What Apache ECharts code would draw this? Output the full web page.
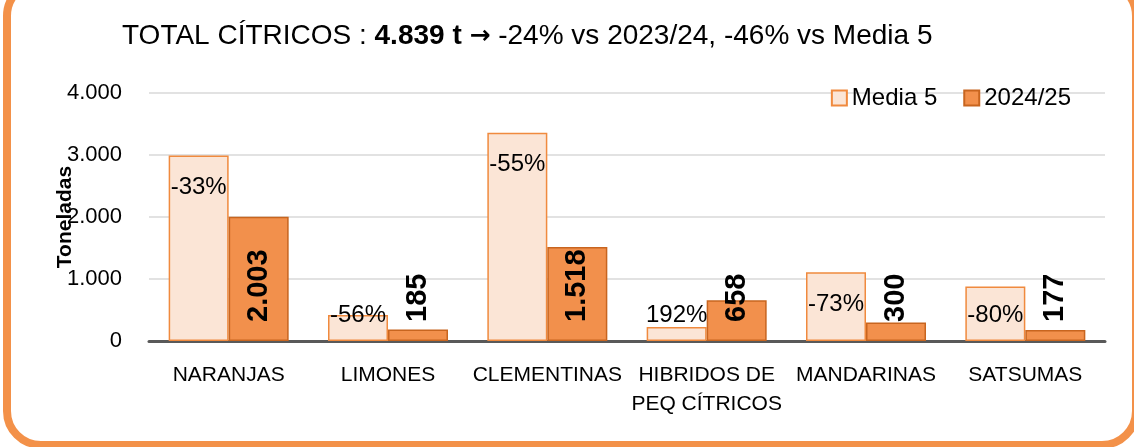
<!DOCTYPE html>
<html>
<head>
<meta charset="utf-8">
<script src="https://cdn.jsdelivr.net/npm/echarts@6/dist/echarts.min.js"></script>
<style>
  html, body { margin: 0; padding: 0; background: #fff; overflow: hidden; }
  #wrap { position: relative; width: 1134px; height: 447px; overflow: hidden; }
  #chart { position: absolute; left: 0; top: 0; width: 1134px; height: 447px; }
  #frame {
    position: absolute; left: 3px; top: -22px; right: -6px; bottom: -2px;
    border: 8px solid #F39149; border-radius: 38px; pointer-events: none;
  }
</style>
</head>
<body>
<div id="wrap">
  <div id="chart"></div>
  <div id="frame"></div>
</div>
<script>
// datos
var categorias = ['NARANJAS', 'LIMONES', 'CLEMENTINAS', 'HIBRIDOS DE\nPEQ CÍTRICOS', 'MANDARINAS', 'SATSUMAS'];
var media5 = [2990, 420, 3360, 225, 1110, 880];
var campana = [2003, 185, 1518, 658, 300, 177];
var variacion = ['-33%', '-56%', '-55%', '192%', '-73%', '-80%'];
var yTicks = [0, 1000, 2000, 3000, 4000];

function miles(v) {
  return String(v).replace(/\B(?=(\d{3})+(?!\d))/g, '.');
}

var chart = echarts.init(document.getElementById('chart'));

// etiquetas de % : dentro arriba si la barra es alta, si no abajo
var media5Data = media5.map(function (v, i) {
  var alta = v > 950;
  return {
    value: v,
    label: {
      position: alta ? 'insideTop' : 'insideBottom',
      distance: alta ? 20 : 14,
      formatter: variacion[i]
    }
  };
});

var option = {
  animation: false,
  title: {
    text: '{a|TOTAL CÍTRICOS : }{b|4.839 t }{c|→}{a| -24% vs 2023/24, -46% vs Media 5}',
    left: 117,
    top: 17,
    textStyle: {
      fontWeight: 'normal',
      rich: {
        a: { fontFamily: 'Liberation Sans', fontSize: 28, fontWeight: 'normal', color: '#000' },
        b: { fontFamily: 'Liberation Sans', fontSize: 28, fontWeight: 'bold', color: '#000' },
        c: { fontFamily: 'DejaVu Sans', fontSize: 25, fontWeight: 'bold', color: '#000' }
      }
    }
  },
  legend: {
    data: ['Media 5', '2024/25'],
    icon: 'rect',
    right: 58,
    top: 81,
    itemWidth: 15,
    itemHeight: 15,
    itemGap: 26,
    textStyle: { fontFamily: 'Liberation Sans', fontSize: 24, color: '#000' }
  },
  grid: {
    left: 149,
    right: 29,
    top: 93,
    bottom: 106
  },
  xAxis: {
    type: 'category',
    data: categorias,
    axisTick: { show: false },
    axisLine: { lineStyle: { color: '#595959', width: 3 } },
    axisLabel: {
      margin: 20,
      interval: 0,
      fontFamily: 'Liberation Sans',
      fontSize: 21,
      lineHeight: 29,
      color: '#000'
    }
  },
  yAxis: {
    type: 'value',
    min: 0,
    max: yTicks[yTicks.length - 1],
    interval: 1000,
    name: 'Toneladas',
    nameLocation: 'middle',
    nameRotate: 90,
    nameGap: 73,
    nameMoveOverlap: false,
    nameTextStyle: { fontFamily: 'Liberation Sans', fontSize: 21, fontWeight: 'bold', color: '#000' },
    axisLine: { show: false },
    axisTick: { show: false },
    splitLine: { lineStyle: { color: '#D9D9D9', width: 1.5 } },
    axisLabel: {
      margin: 27,
      fontFamily: 'Liberation Sans',
      fontSize: 22,
      color: '#000',
      formatter: function (v) { return miles(v); }
    }
  },
  series: [
    {
      name: 'Media 5',
      type: 'bar',
      barWidth: 60,
      barGap: '0%',
      data: media5Data,
      itemStyle: { color: '#FBE5D6', borderColor: '#F08A3E', borderWidth: 1.5 },
      label: {
        show: true,
        fontFamily: 'Liberation Sans',
        fontSize: 24,
        color: '#000'
      }
    },
    {
      name: '2024/25',
      type: 'bar',
      barWidth: 60,
      data: campana,
      itemStyle: { color: '#F2904C', borderColor: '#C8651F', borderWidth: 1.5 },
      label: {
        show: true,
        position: 'insideBottom',
        distance: 19,
        rotate: 90,
        align: 'left',
        verticalAlign: 'middle',
        fontFamily: 'Liberation Sans',
        fontWeight: 'bold',
        fontSize: 29,
        color: '#000',
        formatter: function (p) { return miles(p.value); }
      }
    }
  ]
};

chart.setOption(option);
window.addEventListener('resize', function () {
  chart.resize();
});
</script>
</body>
</html>
